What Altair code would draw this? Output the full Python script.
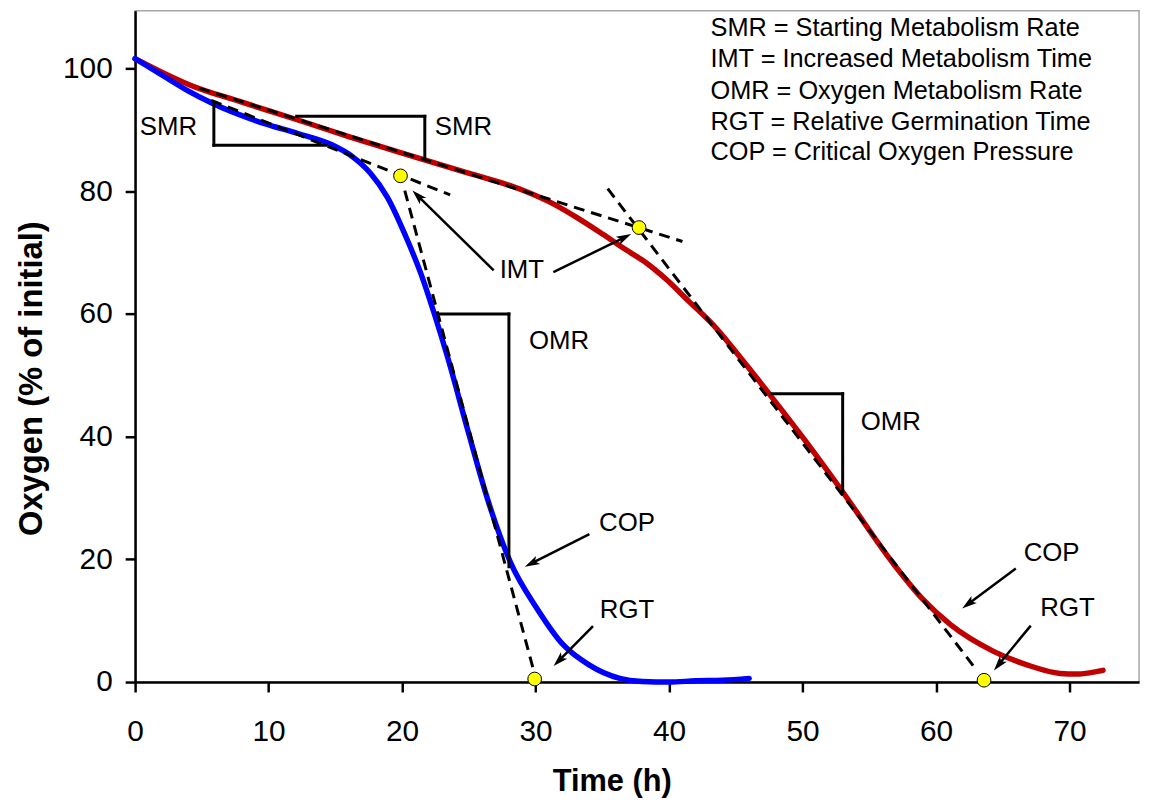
import math
import altair as alt
import pandas as pd

# ---------------- data ----------------
blue_time = [0, 2.4, 4, 5.7, 9.7, 12.2, 14.7, 16.3, 17.6, 18.9, 20.4, 21.4, 22.4, 23.4,
             24.9, 26.4, 28.1, 30.1, 32.1, 34.0, 36.3, 38, 40, 42, 44, 46]
blue_oxygen = [101.6, 98.4, 96.3, 94.4, 91.0, 89.4, 87.6, 85.6, 83.0, 79.0, 72.0, 66.6, 60.1, 53.0,
               41.2, 29.8, 19.6, 12.0, 6.0, 2.8, 0.6, 0.1, 0.0, 0.2, 0.3, 0.6]

red_time = [0, 2, 4, 8, 12.2, 16, 20, 24.9, 27.1, 29, 31, 33.1, 35.3, 36.8, 38.3, 39.8, 41.5, 43.3,
            45.7, 47.7, 50, 52.9, 56.9, 59, 61.1, 64.3, 66.8, 69.3, 70.5, 71.5, 72.5]
red_oxygen = [101.6, 99.4, 97.4, 94.5, 91.6, 88.9, 86.2, 83.0, 81.6, 80.2, 78.3, 75.7, 72.6, 70.4,
              68.3, 65.6, 62.0, 58.2, 51.9, 46.4, 39.9, 31.3, 19.0, 13.5, 9.3, 5.0, 2.8, 1.4, 1.3,
              1.5, 1.9]

# dashed tangent lines (start time, start O2, end time, end O2)
tangent_t1 = [5.7, 4.8, 20.2, 35.4]
tangent_o1 = [94.8, 96.8, 80.1, 80.4]
tangent_t2 = [23.6, 41.0, 29.8, 62.8]
tangent_o2 = [79.4, 71.8, 2.3, 2.6]

# solid slope triangles (segments)
tri_t1 = [5.9, 5.9, 12.1, 21.7, 22.7, 28.0, 47.7, 53.0]
tri_o1 = [94.2, 87.5, 92.2, 92.2, 60.0, 60.0, 47.0, 47.0]
tri_t2 = [5.9, 14.3, 21.7, 21.7, 28.0, 28.0, 53.0, 53.0]
tri_o2 = [87.5, 87.5, 92.2, 85.2, 60.0, 18.8, 47.0, 31.0]

# arrows (tail -> tip)
arrow_tail_t = [26.86, 31.33, 34.03, 34.3, 65.97, 67.09]
arrow_tail_o = [67.1, 66.8, 24.1, 9.1, 18.5, 9.2]
arrow_tip_t = [20.77, 37.16, 29.19, 31.35, 61.95, 64.33]
arrow_tip_o = [80.1, 73.0, 18.8, 2.6, 12.0, 1.9]

# annotation labels
label_text = ["SMR", "SMR", "IMT", "OMR", "OMR", "COP", "RGT", "COP", "RGT"]
label_t = [2.5, 24.6, 28.97, 31.75, 56.6, 36.85, 36.85, 68.65, 69.84]
label_o = [90.4, 90.4, 67.1, 55.5, 42.4, 25.9, 11.8, 21.1, 12.0]

# yellow marker points (IMT and RGT)
marker_t = [19.88, 37.75, 29.93, 63.59]
marker_o = [82.5, 74.07, 0.5, 0.3]

# key text
key_lines = ["SMR = Starting Metabolism Rate",
             "IMT = Increased Metabolism Time",
             "OMR = Oxygen Metabolism Rate",
             "RGT = Relative Germination Time",
             "COP = Critical Oxygen Pressure"]
key_t = [43.1] * 5
key_o = [105.3, 100.2, 95.0, 90.0, 85.1]

x_ticks = [0, 10, 20, 30, 40, 50, 60, 70]
y_ticks = [0, 20, 40, 60, 80, 100]

# ---------------- layout ----------------
W, H = 1011, 676
XMAX, YMAX = 75.2, 109.4
PX_X, PX_Y = W / XMAX, H / YMAX

xs = alt.Scale(domain=[0, XMAX], nice=False, zero=False)
ys = alt.Scale(domain=[0, YMAX], nice=False, zero=False)

tick_font = "Liberation Sans"
x_axis = alt.Axis(values=x_ticks, grid=False, domainColor="black", domainWidth=2.5,
                  tickColor="black", tickWidth=2.5, tickSize=10, labelFlush=False,
                  labelFont=tick_font, labelFontSize=30, labelColor="black", labelPadding=25,
                  title="Time (h)", titleFont="Liberation Sans", titleFontSize=31,
                  titleFontWeight="bold", titleColor="black",
                  titleX=480, titleY=109, titleAlign="center", titleBaseline="alphabetic")
y_axis = alt.Axis(values=y_ticks, grid=False, domainColor="black", domainWidth=2.5,
                  tickColor="black", tickWidth=2.5, tickSize=10, labelFlush=False,
                  labelFont=tick_font, labelFontSize=30, labelColor="black", labelPadding=13,
                  title="Oxygen (% of initial)", titleFont="Liberation Sans", titleFontSize=33,
                  titleFontWeight="bold", titleColor="black", titleAngle=270,
                  titleX=-94, titleY=370, titleAlign="center", titleBaseline="alphabetic")


def X(field="t"):
    return alt.X(f"{field}:Q", scale=xs, axis=x_axis)


def Y(field="o"):
    return alt.Y(f"{field}:Q", scale=ys, axis=y_axis)


red_df = pd.DataFrame({"t": red_time, "o": red_oxygen})
blue_df = pd.DataFrame({"t": blue_time, "o": blue_oxygen})
tan_df = pd.DataFrame({"t": tangent_t1, "o": tangent_o1, "t2": tangent_t2, "o2": tangent_o2})
tri_df = pd.DataFrame({"t": tri_t1, "o": tri_o1, "t2": tri_t2, "o2": tri_o2})

# arrow shafts end a little before the tip (the head covers the rest)
shaft_end_t, shaft_end_o, head_angle = [], [], []
for tt, to, ht, ho in zip(arrow_tail_t, arrow_tail_o, arrow_tip_t, arrow_tip_o):
    dx = (ht - tt) * PX_X
    dy = -(ho - to) * PX_Y
    L = math.hypot(dx, dy)
    back = 8.0 / L
    shaft_end_t.append(ht - (ht - tt) * back)
    shaft_end_o.append(ho - (ho - to) * back)
    head_angle.append(math.degrees(math.atan2(dx, -dy)) % 360)

shaft_df = pd.DataFrame({"t": arrow_tail_t, "o": arrow_tail_o, "t2": shaft_end_t, "o2": shaft_end_o})
head_df = pd.DataFrame({"t": arrow_tip_t, "o": arrow_tip_o, "angle": head_angle})
label_df = pd.DataFrame({"t": label_t, "o": label_o, "text": label_text})
marker_df = pd.DataFrame({"t": marker_t, "o": marker_o})
key_df = pd.DataFrame({"t": key_t, "o": key_o, "text": key_lines})

red_line = alt.Chart(red_df).mark_line(color="#c00000", strokeWidth=5.5, interpolate="monotone",
                                       strokeCap="round").encode(x=X(), y=Y(), order="t:Q")
blue_line = alt.Chart(blue_df).mark_line(color="#0000ff", strokeWidth=5.5, interpolate="monotone",
                                         strokeCap="round").encode(x=X(), y=Y(), order="t:Q")
tangents = alt.Chart(tan_df).mark_rule(color="black", strokeWidth=3, strokeDash=[11, 7]).encode(
    x=X(), y=Y(), x2="t2:Q", y2="o2:Q")
triangles = alt.Chart(tri_df).mark_rule(color="black", strokeWidth=3, strokeCap="square").encode(
    x=X(), y=Y(), x2="t2:Q", y2="o2:Q")
shafts = alt.Chart(shaft_df).mark_rule(color="black", strokeWidth=2.5).encode(
    x=X(), y=Y(), x2="t2:Q", y2="o2:Q")
heads = alt.Chart(head_df).mark_point(shape="M0,0L0.45,1.5L0,1.15L-0.45,1.5Z", filled=True,
                                      color="black", size=400, opacity=1, strokeWidth=0).encode(
    x=X(), y=Y(), angle=alt.Angle("angle:Q", scale=None))
markers = alt.Chart(marker_df).mark_point(shape="circle", filled=True, fill="#ffff00", stroke="black",
                                          strokeWidth=1, size=190, opacity=1).encode(x=X(), y=Y())
labels = alt.Chart(label_df).mark_text(font="Liberation Sans", fontSize=26, color="black",
                                       align="center", baseline="middle").encode(
    x=X(), y=Y(), text="text:N")
key = alt.Chart(key_df).mark_text(font="Liberation Sans", fontSize=25.5, color="black",
                                  align="left", baseline="alphabetic").encode(
    x=X(), y=Y(), text="text:N")

chart = alt.layer(red_line, blue_line, tangents, triangles, shafts, heads, markers, labels, key).properties(
    width=W, height=H,
    autosize=alt.AutoSizeParams(type="none"),
    padding={"left": 128, "top": 0, "right": 5, "bottom": 117},
    background="white",
).configure_view(stroke="#a6a6a6", strokeWidth=1.5)

chart.save("out.html", embed_options={"renderer": "svg", "actions": False})
